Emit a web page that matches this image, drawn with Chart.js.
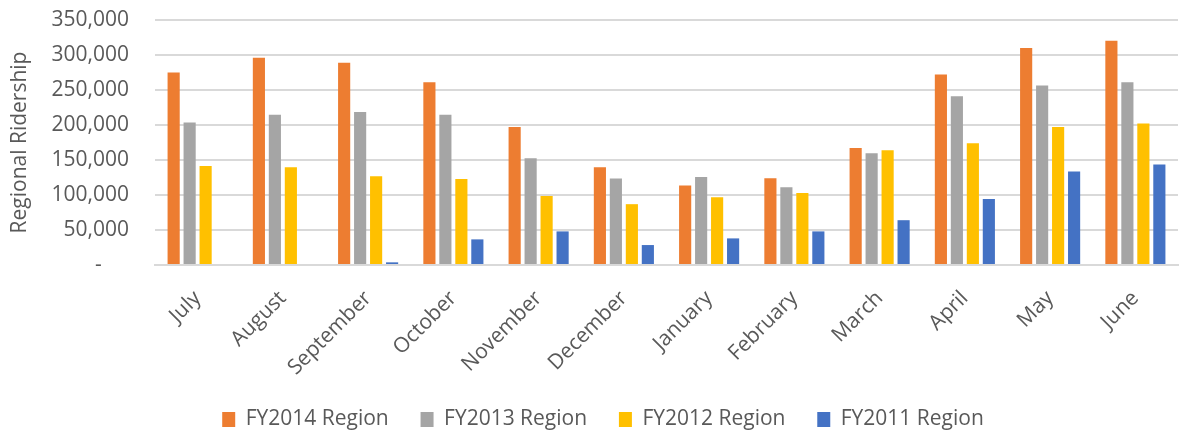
<!DOCTYPE html>
<html>
<head>
<meta charset="utf-8">
<script src="https://cdn.jsdelivr.net/npm/chart.js@4/dist/chart.umd.min.js"></script>
<style>
  html, body { margin: 0; padding: 0; background: #fff; }
  #wrap { width: 1179px; height: 432px; }
</style>
</head>
<body>
<div id="wrap"><canvas id="ridership"></canvas></div>
<script>
const months = ['July', 'August', 'September', 'October', 'November', 'December',
    'January', 'February', 'March', 'April', 'May', 'June'];

const fy2014 = [275000, 296000, 289000, 261000, 197000, 139600, 113500, 124000, 167000, 272000, 310000, 320500];
const fy2013 = [203700, 214600, 218400, 214600, 152400, 123500, 125800, 111000, 159500, 241000, 256400, 261000];
const fy2012 = [141500, 139600, 126800, 123000, 98700, 86900, 96900, 103000, 164000, 173800, 197000, 202000];
const fy2011 = [null, null, 3800, 36600, 48000, 28500, 38000, 48000, 64000, 94400, 133500, 143400];

const yTicks = [0, 50000, 100000, 150000, 200000, 250000, 300000, 350000];

const textColor = '#595959';
const gridColor = '#d9d9d9';
const font = "'Open Sans', sans-serif";

function series(label, data, color) {
    return {
        label: label,
        data: data,
        backgroundColor: color,
        borderWidth: 0,
        categoryPercentage: 0.75,
        barPercentage: 0.76
    };
}

let ctx = document.getElementById('ridership');
let ridershipChart = new Chart(ctx, {
    type: 'bar',
    data: {
        labels: months,
        datasets: [
            series('FY2014 Region', fy2014, '#ED7D31'),
            series('FY2013 Region', fy2013, '#A5A5A5'),
            series('FY2012 Region', fy2012, '#FFC000'),
            series('FY2011 Region', fy2011, '#4472C4')
        ]
    },
    options: {
        responsive: true,
        maintainAspectRatio: false,
        animation: false,
        layout: {
            // left padding nudges the centred legend to the right
            padding: { top: 0, right: 1, left: 28, bottom: -8 }
        },
        plugins: {
            tooltip: { enabled: false },
            legend: {
                position: 'bottom',
                labels: {
                    color: textColor,
                    font: { family: font, size: 21 },
                    boxWidth: 13,
                    boxHeight: 15,
                    padding: 10,
                    // trailing spaces widen the gaps between items without adding height
                    generateLabels: function(chart) {
                        let items = Chart.defaults.plugins.legend.labels.generateLabels(chart);
                        items.forEach(function(item, i) {
                            if (i < items.length - 1) {
                                item.text = item.text + '    ';
                            }
                        });
                        return items;
                    }
                }
            }
        },
        scales: {
            x: {
                grid: { display: false, drawTicks: false },
                border: { color: gridColor, width: 2 },
                ticks: {
                    color: textColor,
                    font: { family: font, size: 21 },
                    minRotation: 45,
                    maxRotation: 45,
                    padding: 21
                },
                afterFit: function(scale) {
                    scale.height = 134;
                }
            },
            y: {
                min: 0,
                max: 350000,
                afterBuildTicks: function(scale) {
                    scale.ticks = yTicks.map(v => ({ value: v }));
                },
                grid: { color: gridColor, lineWidth: 2, drawTicks: false },
                border: { display: false },
                ticks: {
                    color: textColor,
                    font: { family: font, size: 21 },
                    padding: 26,
                    callback: function(value) {
                        return value === 0 ? '-     ' : value.toLocaleString('en-US');
                    }
                },
                title: {
                    display: true,
                    text: 'Regional Ridership',
                    color: textColor,
                    font: { family: font, size: 21 },
                    padding: { top: -21, bottom: 0 }
                },
                afterFit: function(scale) {
                    scale.width = 127;
                    scale.paddingTop = 20;
                    scale.paddingBottom = 0;
                }
            }
        }
    }
});
</script>
</body>
</html>
